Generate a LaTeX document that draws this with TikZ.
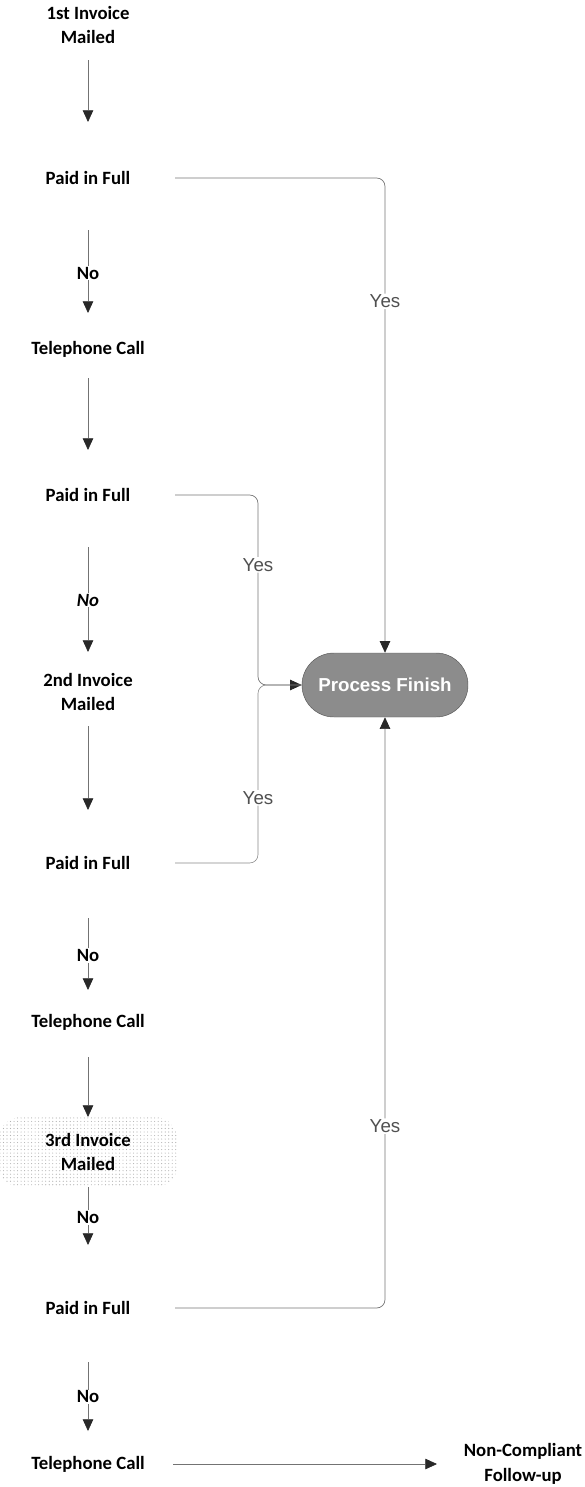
\documentclass[tikz,border=0pt]{standalone}
\usepackage{fontspec}
\setmainfont{Carlito}
\newfontfamily\labelfont{Liberation Sans}
\usepackage{tikz}
\usetikzlibrary{
  arrows.meta,
  patterns
}
\definecolor{LineGray}{RGB}{115, 115, 115}
\definecolor{TipGray}{RGB}{40, 40, 40}
\definecolor{FinishGray}{RGB}{140, 140, 140}
\definecolor{YesGray}{RGB}{80, 80, 80}
\tikzset{
    stepnode/.style={font=\fontsize{16}{21}\selectfont\bfseries, align=center, inner sep=2pt},
    flow/.style={draw=LineGray, line width=0.6pt, -{Triangle[length=10pt, width=9pt, color=TipGray]}},
    yesline/.style={draw=LineGray!85, line width=0.5pt, rounded corners=0.25cm},
    nolbl/.style={font=\fontsize{16}{21}\selectfont\bfseries, fill=white, inner sep=1pt},
    yeslbl/.style={font=\labelfont\fontsize{16}{19}\selectfont, text=YesGray, fill=white, inner sep=1pt},
    finish/.style={rectangle, rounded corners=0.96cm, fill=FinishGray, draw=gray!70!black, line width=0.4pt,
        minimum width=4.98cm, minimum height=1.92cm, text=white, font=\labelfont\bfseries\fontsize{16}{19}\selectfont},
    dotted bg/.style={rounded corners=0.7cm, pattern=dots, pattern color=gray!60, minimum width=5.4cm, minimum height=2.1cm}
}

\begin{document}
\begin{tikzpicture}[x=0.03cm, y=-0.03cm]
    \useasboundingbox (0,0) rectangle (584,1487);

    % left column
    \node[stepnode] (inv1) at (88,25) {1st Invoice\\Mailed};
    \node[stepnode] (paid1) at (88,178) {Paid in Full};
    \node[stepnode] (call1) at (88,349) {Telephone Call};
    \node[stepnode] (paid2) at (88,495) {Paid in Full};
    \node[stepnode] (inv2) at (88,692) {2nd Invoice\\Mailed};
    \node[stepnode] (paid3) at (88,863) {Paid in Full};
    \node[stepnode] (call2) at (88,1022) {Telephone Call};
    \node[stepnode, dotted bg] (inv3) at (88,1152) {3rd Invoice\\Mailed};
    \node[stepnode] (paid4) at (88,1308) {Paid in Full};
    \node[stepnode] (call3) at (88,1464) {Telephone Call};
    \node[stepnode] (ncf) at (523,1464) {Non-Compliant\\Follow-up};

    % end of process
    \node[finish] (pf) at (385,685) {Process Finish};
    \coordinate (jn) at (258,685);

    % no branch
    \draw[flow, shorten <=1.05cm, shorten >=1.68cm] (inv1.center) -- (paid1.center);
    \draw[flow, shorten <=1.56cm, shorten >=1.08cm] (paid1.center) -- node[nolbl, pos=0.556] {No} (call1.center);
    \draw[flow, shorten <=0.87cm, shorten >=1.35cm] (call1.center) -- (paid2.center);
    \draw[flow, shorten <=1.56cm, shorten >=1.2cm] (paid2.center) -- node[nolbl, pos=0.533] {\itshape No} (inv2.center);
    \draw[flow, shorten <=1.02cm, shorten >=1.59cm] (inv2.center) -- (paid3.center);
    \draw[flow, shorten <=1.65cm, shorten >=0.96cm] (paid3.center) -- node[nolbl, pos=0.58] {No} (call2.center);
    \draw[flow, shorten <=1.05cm, shorten >=1.05cm] (call2.center) -- (inv3.center);
    \draw[flow, shorten <=1.05cm, shorten >=1.89cm] (inv3.center) -- node[nolbl, pos=0.42] {No} (paid4.center);
    \draw[flow, shorten <=1.62cm, shorten >=0.99cm] (paid4.center) -- node[nolbl, pos=0.57] {No} (call3.center);
    \draw[flow, shorten <=2.55cm, shorten >=2.58cm] (call3.center) -- (ncf.center);

    % yes branch
    \draw[yesline, flow, shorten <=2.61cm] (paid1.center) -| node[yeslbl, pos=0.63] {Yes} (pf.north);
    \draw[yesline, flow, shorten <=2.61cm] (paid2.center) -| node[yeslbl, pos=0.684] {Yes} (jn) -- (pf.west);
    \draw[yesline, shorten <=2.61cm] (paid3.center) -| node[yeslbl, pos=0.683] {Yes} (jn) -- (pf.west);
    \draw[yesline, flow, shorten <=2.61cm] (paid4.center) -| node[yeslbl, pos=0.654] {Yes} (pf.south);
\end{tikzpicture}
\end{document}
